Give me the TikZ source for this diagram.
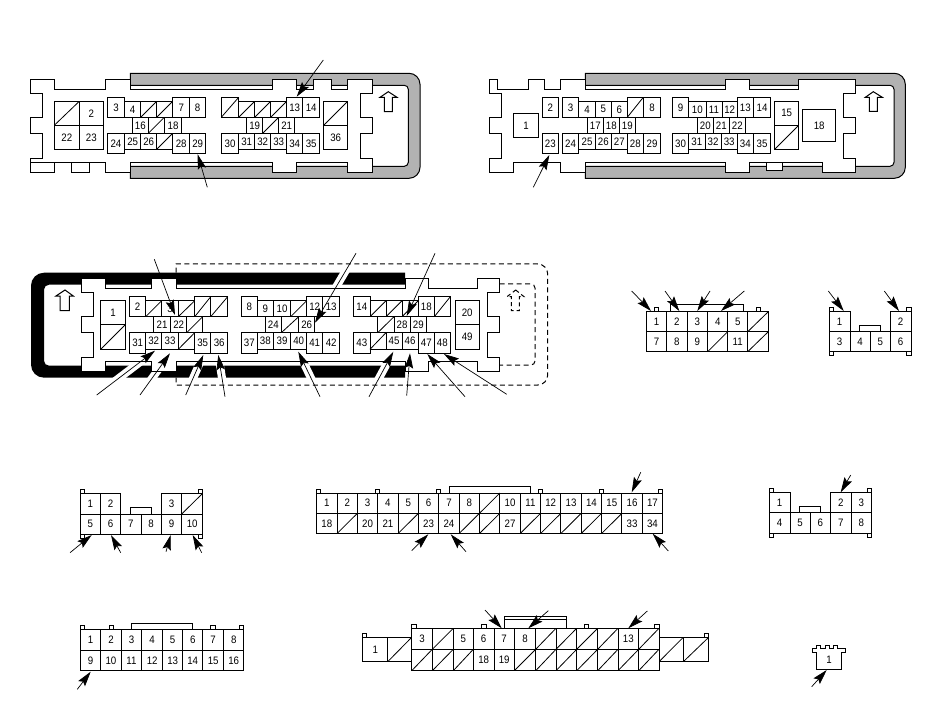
\documentclass[tikz,border=0pt]{standalone}
\usepackage{fontspec}
\setmainfont[FakeStretch=0.9]{Liberation Sans}
\usetikzlibrary{arrows.meta}
\definecolor{bandgrey}{RGB}{178,178,178}
\tikzset{
  cellbox/.style={draw=black,fill=white,line width=1pt,inner sep=0pt,outer sep=0pt,font=\fontsize{10.8}{11}\selectfont},
  diagline/.style={draw=black,line width=0.8pt},
  shell/.style={draw=black,line width=1pt,line join=miter},
  shellfill/.style={shell,fill=white},
  greyband/.style={draw=black,line width=1pt,fill=bandgrey},
  leader/.style={draw=black,line width=0.7pt,-{Stealth[length=15pt,width=8.5pt,inset=2.5pt]}},
  halo/.style={draw=white,line width=8pt},
  dashline/.style={draw=black,line width=1pt,dash pattern=on 5pt off 3.5pt}
}
\newcommand{\pincell}[6]{\node[cellbox,minimum width={((#3)-(#2))*1pt},minimum height={((#5)-(#4))*1pt},anchor=north west] (#1) at ({#2},{#4}) {#6};}
\newcommand{\voidcell}[5]{\pincell{#1}{#2}{#3}{#4}{#5}{}\draw[diagline] (#1.south west) -- (#1.north east);}
\newcommand{\labrow}[4]{\foreach \xa/\xb/\lab [count=\i] in {#4} {\pincell{#1\i}{\xa}{\xb}{#2}{#3}{\lab}}}
\newcommand{\voidrow}[4]{\foreach \xa/\xb [count=\i] in {#4} {\voidcell{#1\i}{\xa}{\xb}{#2}{#3}}}
\newcommand{\stub}[4]{\draw[shell] (#1,#4) -- (#1,#3) -- (#2,#3) -- (#2,#4);}
\newcommand{\leadline}[5]{\coordinate (#1t) at (#2,#3); \coordinate (#1h) at (#4,#5); \draw[leader] (#1t) -- (#1h);}
\newcommand{\haloline}[4]{\draw[halo] (#1,#2) -- (#3,#4);}
\begin{document}
\begin{tikzpicture}[x=1pt,y=-1pt]
\useasboundingbox (0,0) rectangle (950,719);
% ---------- Connector A
\draw[greyband] (130.3,73.3) [rounded corners=11pt] -- (420,73.3) -- (420,178.3) [sharp corners] -- (130.3,178.3) -- (130.3,166.3) [rounded corners=4pt] -- (408.3,166.3) -- (408.3,85.3) [sharp corners] -- (130.3,85.3) -- cycle;
\draw[shellfill] (30.3,79.3) -- (54.3,79.3) -- (54.3,89.3) -- (105.3,89.3) -- (105.3,79.3) -- (130.3,79.3) -- (130.3,89.3) -- (272.3,89.3) -- (272.3,79.3) -- (296.3,79.3) -- (296.3,89.3) -- (313.3,89.3) -- (313.3,79.3) -- (331.3,79.3) -- (331.3,89.3) -- (347.3,89.3) -- (347.3,79.3) -- (372.7,79.3) -- (372.7,93.3) -- (360.3,93.3) -- (360.3,117.3) -- (372.7,117.3) -- (372.7,133.3) -- (360.3,133.3) -- (360.3,158.3) -- (372.7,158.3) -- (372.7,172.3) -- (347.3,172.3) -- (347.3,162.3) -- (296.3,162.3) -- (296.3,172.3) -- (272.3,172.3) -- (272.3,162.3) -- (130.3,162.3) -- (130.3,172.3) -- (105.3,172.3) -- (105.3,162.3) -- (89.7,162.3) -- (89.7,172.3) -- (71.7,172.3) -- (71.7,162.3) -- (54.3,162.3) -- (54.3,172.3) -- (30.3,172.3) -- (30.3,158.3) -- (42.7,158.3) -- (42.7,133.3) -- (30.3,133.3) -- (30.3,117.3) -- (42.7,117.3) -- (42.7,93.3) -- (30.3,93.3) -- cycle;
\draw[shell] (30.3,162.3) -- (105.3,162.3);
\draw[shell] (388.3,91.7) -- (397,97.3) -- (392.3,97.3) -- (392.3,111.7) -- (384.3,111.7) -- (384.3,97.3) -- (380,97.3) -- cycle;
\voidcell{Aa}{54.3}{79.3}{101.3}{125.3}
\pincell{Ab}{79.3}{103.3}{101.3}{125.3}{2}
\pincell{Ac}{54.3}{79.3}{125.3}{149.3}{22}
\pincell{Ad}{79.3}{103.3}{125.3}{149.3}{23}
\labrow{AUT}{97.3}{117.3}{107.3/124.7/3,172.7/189.7/7,189.7/205.7/8,286.7/302.7/13,302.7/319.7/14}
\labrow{AUS}{101.3}{117.3}{124.7/140.7/4}
\voidrow{AVS}{101.3}{117.3}{140.7/156.7,156.7/172.7,238.7/254.7,254.7/270.7,270.7/286.7}
\voidrow{AVT}{97.3}{117.3}{221.3/238.7}
\labrow{AM}{117.3}{133.3}{132.3/148.3/16,164.3/181.7/18,246.7/262.7/19,278.7/294.7/21}
\voidrow{AVM}{117.3}{133.3}{148.3/164.3,262.7/278.7}
\labrow{ALT}{133.3}{153.3}{107.3/124.7/24,172.7/189.7/28,189.7/205.7/29,221.3/238.7/30,286.7/302.7/34,302.7/319.7/35}
\labrow{ALS}{133.3}{149.3}{124.7/140.7/25,140.7/156.7/26,238.7/254.7/31,254.7/270.7/32,270.7/286.7/33}
\voidrow{AVL}{133.3}{149.3}{156.7/172.7}
\voidcell{Ae}{323.7}{347.7}{101.3}{125.3}
\pincell{Af}{323.7}{347.7}{125.3}{149.3}{36}
\leadline{la1}{207.3}{187.3}{197.7}{154.3}
\leadline{la2}{323.3}{60}{296.7}{96.7}
% ---------- Connector B
\draw[greyband] (585.3,73.3) [rounded corners=11pt] -- (905.3,73.3) -- (905.3,178.3) [sharp corners] -- (585.3,178.3) -- (585.3,166.3) [rounded corners=4pt] -- (894,166.3) -- (894,85.3) [sharp corners] -- (585.3,85.3) -- cycle;
\draw[shellfill] (489.3,79.3) -- (497.3,79.3) -- (497.3,89.3) -- (528.3,89.3) -- (528.3,79.3) -- (544.3,79.3) -- (544.3,89.3) -- (560.3,89.3) -- (560.3,79.3) -- (585.3,79.3) -- (585.3,89.3) -- (725.3,89.3) -- (725.3,79.3) -- (749.3,79.3) -- (749.3,89.3) -- (798.7,89.3) -- (798.7,79.3) -- (855.7,79.3) -- (855.7,93.3) -- (843.3,93.3) -- (843.3,117.3) -- (855.7,117.3) -- (855.7,133.3) -- (843.3,133.3) -- (843.3,158.3) -- (855.7,158.3) -- (855.7,172.3) -- (822.7,172.3) -- (822.7,162.3) -- (749.3,162.3) -- (749.3,172.3) -- (725.3,172.3) -- (725.3,162.3) -- (585.3,162.3) -- (585.3,172.3) -- (560.3,172.3) -- (560.3,162.3) -- (513.3,162.3) -- (513.3,172.3) -- (489.3,172.3) -- (489.3,158.3) -- (501.3,158.3) -- (501.3,133.3) -- (489.3,133.3) -- (489.3,117.3) -- (501.3,117.3) -- (501.3,93.3) -- (489.3,93.3) -- cycle;
\draw[shellfill] (766.3,162.3) rectangle (782.3,170.3);
\draw[shell] (873.3,91.7) -- (882.3,97.3) -- (877.3,97.3) -- (877.3,111.3) -- (869.3,111.3) -- (869.3,97.3) -- (865.3,97.3) -- cycle;
\pincell{Ba}{513.3}{538.7}{113.3}{137.3}{1}
\labrow{BUT}{97.3}{117.3}{542.3/558.3/2,562.3/578.7/3,643.3/660.7/8,672.3/688.7/9,737.3/753.3/13,753.3/770.7/14}
\labrow{BUS}{101.3}{117.3}{578.7/595.3/4,595.3/611.3/5,611.3/627.3/6,688.7/706/10,706/722/11,722/737.3/12}
\voidrow{BVT}{97.3}{117.3}{627.3/643.3}
\labrow{BM}{117.3}{133.3}{587.3/603.3/17,603.3/619.3/18,619.3/635.3/19,697.3/713.3/20,713.3/729.3/21,729.3/745.3/22}
\labrow{BLT}{133.3}{153.3}{542.3/558.3/23,562.3/578.7/24,627.3/643.3/28,643.3/660.7/29,672.3/688.7/30,737.3/753.3/34,753.3/770.7/35}
\labrow{BLS}{133.3}{149.3}{578.7/595.3/25,595.3/611.3/26,611.3/627.3/27,688.7/705/31,705/721/32,721/737.3/33}
\pincell{Bb}{774.7}{798.7}{101.3}{125.3}{15}
\voidcell{Bc}{774.7}{798.7}{125.3}{149.3}
\pincell{Bd}{802.7}{835.7}{109.3}{141.3}{18}
\leadline{lb1}{533.3}{187.3}{549.3}{155}
% ---------- Connector C
\fill[black] (405,272.7) [rounded corners=13pt] -- (31,272.7) -- (31,377.7) [sharp corners] -- (405,377.7) -- (405,365.7) [rounded corners=5pt] -- (44,365.7) -- (44,284.7) [sharp corners] -- (405,284.7) -- cycle;
\haloline{96.7}{395}{155}{350.7}
\haloline{140}{395}{170}{353.3}
\haloline{185.7}{395}{203.3}{355}
\haloline{225}{396.7}{218.3}{355}
\haloline{356}{253.3}{315}{322.7}
\haloline{320}{396.7}{298.3}{351.7}
\haloline{369}{396.7}{393.3}{351.7}
\draw[dashline] (176,272.7) -- (176,264) [rounded corners=10pt] -- (547.7,264) -- (547.7,385) [sharp corners] -- (176,385) -- (176,377.7);
\draw[dashline] (499.7,284) [rounded corners=4pt] -- (535,284) -- (535,365) [sharp corners] -- (499.7,365);
\draw[shellfill] (81,278.7) -- (105.3,278.7) -- (105.3,288.7) -- (151.7,288.7) -- (151.7,278.7) -- (176,278.7) -- (176,288.7) -- (405,288.7) -- (405,278.7) -- (428.3,278.7) -- (428.3,288.7) -- (477.7,288.7) -- (477.7,278.7) -- (499.7,278.7) -- (499.7,292.7) -- (487.7,292.7) -- (487.7,316.7) -- (499.7,316.7) -- (499.7,332.7) -- (487.7,332.7) -- (487.7,357.3) -- (499.7,357.3) -- (499.7,371.3) -- (477.7,371.3) -- (477.7,361.3) -- (428.3,361.3) -- (428.3,371.3) -- (405,371.3) -- (405,361.3) -- (176,361.3) -- (176,371.3) -- (151.7,371.3) -- (151.7,361.3) -- (105.3,361.3) -- (105.3,371.3) -- (81,371.3) -- (81,357.3) -- (93,357.3) -- (93,332.7) -- (81,332.7) -- (81,316.7) -- (93,316.7) -- (93,292.7) -- (81,292.7) -- cycle;
\draw[shell] (65,290) -- (73.3,296) -- (69.3,296) -- (69.3,310.7) -- (60,310.7) -- (60,296) -- (56,296) -- cycle;
\draw[dashline,dash pattern=on 4pt off 3pt] (515.7,290) -- (524,296.7) -- (519.3,296.7) -- (519.3,310.7) -- (511.3,310.7) -- (511.3,296.7) -- (507,296.7) -- cycle;
\pincell{Ca}{100.7}{125.3}{300.7}{324.7}{1}
\voidcell{Cb}{100.7}{125.3}{324.7}{349.3}
\labrow{CUT}{296.7}{316.7}{129.7/145.7/2,241.3/257.3/8,306.7/322.7/12,322.7/339.7/13,353.7/370/14,418.3/434.3/18}
\voidrow{CVT}{296.7}{316.7}{194.7/210.7,210.7/227.7,434.3/450.3}
\labrow{CUS}{300.7}{316.7}{161.7/178.3/3,257.3/273.3/9,273.3/290.7/10}
\voidrow{CVS}{300.7}{316.7}{145.7/161.7,178.3/194.7,290.7/306.7,370/386,386/402,402/418.3}
\labrow{CM}{316.7}{332.7}{153.3/170.7/21,170.7/186.7/22,265.3/281.3/24,298.7/314.7/26,394/410.3/28,410.3/426.3/29}
\voidrow{CVM}{316.7}{332.7}{186.7/202.7,281.3/298.7,377.7/394}
\labrow{CLT}{332.7}{353.3}{129.7/145.7/31,194.7/210.7/35,210.7/227.7/36,241.3/257.3/37,306.7/322.7/41,322.7/339.7/42,353.7/370/43,418.3/434.3/47,434.3/450.3/48}
\labrow{CLS}{332.7}{349.3}{145.7/161.7/32,161.7/178.3/33,257.3/273.3/38,273.3/290.7/39,290.7/306.7/40,386/402/45,402/418.3/46}
\voidrow{CVL}{332.7}{349.3}{178.3/194.7,370/386}
\pincell{Cc}{455}{479.3}{300.7}{324.7}{20}
\pincell{Cd}{455}{479.3}{324.7}{349.3}{49}
\leadline{lc1}{154.3}{259.3}{175}{315}
\leadline{lc2}{96.7}{395}{155}{350.7}
\leadline{lc3}{140}{395}{170}{353.3}
\leadline{lc4}{185.7}{395}{203.3}{355}
\leadline{lc5}{225}{396.7}{218.3}{355}
\leadline{lc6}{356}{253.3}{315}{322.7}
\leadline{lc7}{320}{396.7}{298.3}{351.7}
\leadline{lc8}{369}{396.7}{393.3}{351.7}
\leadline{lc9}{406.7}{395.7}{410}{353.3}
\leadline{lc10}{435}{253.3}{406.7}{316}
\leadline{lc11}{465}{396.7}{427.3}{354}
\leadline{lc12}{506.7}{394.3}{444}{354}
% ---------- Connector D
\stub{654.3}{658.3}{307.7}{311.7}
\stub{756.3}{760.3}{307.7}{311.7}
\stub{670.3}{743.7}{304.3}{311.7}
\labrow{DT}{311.7}{331.7}{646.3/666.7/1,666.7/687/2,687/707.7/3,707.7/727.7/4,727.7/747.7/5}
\voidcell{DV}{747.7}{768.3}{311.7}{331.7}
\labrow{DB}{331.7}{351.7}{646.3/666.7/7,666.7/687/8,687/707.7/9,727.7/747.7/11}
\voidrow{DW}{331.7}{351.7}{707.7/727.7,747.7/768.3}
\leadline{ld1}{631.7}{291}{651}{311}
\leadline{ld2}{665}{291}{679.3}{311}
\leadline{ld3}{710}{291}{697.3}{311}
\leadline{ld4}{744.3}{291}{721}{311}
% ---------- Connector E
\stub{829}{833.3}{307.7}{312}
\stub{906.7}{911}{307.7}{312}
\stub{859.3}{880.7}{325}{331.7}
\stub{829}{833.3}{355.7}{351.7}
\stub{906.7}{911}{355.7}{351.7}
\labrow{ET}{311.7}{331.7}{829/850/1,890.3/911/2}
\labrow{EB}{331.7}{351.7}{829/850/3,850/870.3/4,870.3/890.3/5,890.3/911/6}
\leadline{le1}{828.3}{291}{843.7}{311}
\leadline{le2}{884.3}{291}{899}{311}
% ---------- Connector F
\stub{80}{84}{489.3}{493.3}
\stub{198.7}{202.7}{489.3}{493.3}
\stub{130.3}{151.3}{507.3}{514}
\stub{80}{84.3}{538.3}{534}
\stub{198.7}{202.7}{538.3}{534}
\labrow{FT}{493.3}{514}{80/100.7/1,100.7/120.7/2,161.3/181.7/3}
\voidcell{FV}{181.7}{202.7}{493.3}{514}
\labrow{FB}{514}{534}{80/100.7/5,100.7/120.7/6,120.7/141/7,141/161.3/8,161.3/181.7/9,181.7/202.7/10}
\leadline{lf1}{70}{552.7}{91.7}{535}
\leadline{lf2}{120.7}{552.7}{111}{535}
\leadline{lf3}{166}{551.7}{170.7}{535}
\leadline{lf4}{201.7}{552.7}{192.7}{535}
% ---------- Connector G
\stub{316.7}{320.7}{489.3}{493}
\stub{375.3}{379.3}{489.3}{493}
\stub{436.7}{440.7}{489.3}{493}
\stub{538.3}{542.3}{489.3}{493}
\stub{599.3}{603.3}{489.3}{493}
\stub{658.3}{662.7}{489.3}{493}
\stub{449.3}{530.7}{486.5}{493}
\foreach \col/\lab in {0/1,1/2,2/3,3/4,4/5,5/6,6/7,7/8,9/10,10/11,11/12,12/13,13/14,14/15,15/16,16/17}
  {\pincell{GT\col}{316.7+20.35*\col}{316.7+20.35*(\col+1)}{493}{513.3}{\lab}}
\voidcell{GTv}{316.7+20.35*8}{316.7+20.35*9}{493}{513.3}
\foreach \col/\lab in {0/18,2/20,3/21,5/23,6/24,9/27,15/33,16/34}
  {\pincell{GB\col}{316.7+20.35*\col}{316.7+20.35*(\col+1)}{513.3}{533.5}{\lab}}
\foreach \col in {1,4,7,8,10,11,12,13,14}
  {\voidcell{GV\col}{316.7+20.35*\col}{316.7+20.35*(\col+1)}{513.3}{533.5}}
\leadline{lg1}{411.7}{550.7}{428.3}{534.3}
\leadline{lg2}{466}{551.7}{450.7}{534.3}
\leadline{lg3}{640.7}{472.3}{631.7}{492.3}
\leadline{lg4}{668.3}{551}{652.7}{533.7}
% ---------- Connector H
\stub{769.3}{773.3}{488.3}{492.7}
\stub{867.7}{871.7}{488.3}{492.7}
\stub{799.3}{820.7}{506.3}{512.7}
\stub{769.3}{773.3}{537.3}{533.3}
\stub{867.7}{871.7}{537.3}{533.3}
\labrow{HT}{492.7}{512.7}{769.3/790/1,830.7/851/2,851/871.7/3}
\labrow{HB}{512.7}{533.3}{769.3/790/4,790/810/5,810/830.7/6,830.7/851/7,851/871.7/8}
\leadline{lh1}{850.7}{475}{840.7}{492.3}
% ---------- Connector I
\stub{80.7}{84.7}{625.3}{629.3}
\stub{109.3}{113.3}{625.3}{629.3}
\stub{210.7}{215}{625.3}{629.3}
\stub{239.7}{243.7}{625.3}{629.3}
\stub{131.7}{192.7}{623.3}{629.3}
\labrow{IT}{629.3}{650}{80.7/100.7/1,100.7/121.3/2,121.3/141.7/3,141.7/162.7/4,162.7/182.7/5,182.7/202.7/6,202.7/223.7/7,223.7/243.7/8}
\labrow{IB}{650}{670.7}{80.7/100.7/9,100.7/121.3/10,121.3/141.7/11,141.7/162.7/12,162.7/182.7/13,182.7/202.7/14,202.7/223.7/15,223.7/243.7/16}
\leadline{li1}{77.3}{689.3}{90.7}{671.7}
% ---------- Connector J
\stub{362.7}{366.7}{633.3}{637.3}
\stub{704.3}{708.7}{633.3}{637.3}
\stub{411.7}{416}{624.3}{628.3}
\stub{481.3}{486.7}{624.3}{628.3}
\stub{584.3}{588.7}{624.3}{628.3}
\stub{654}{659}{624.3}{628.3}
\stub{504.3}{566.7}{616}{628.3}
\draw[shell] (504.3,619.3) -- (566.7,619.3);
\pincell{Ja}{362.7}{387.7}{637.3}{661.7}{1}
\voidrow{JL}{637.3}{661.7}{387.7/411.7,659/683.3,683.3/708.7}
\labrow{JT}{628.3}{649.3}{411.7/432.3/3,453.3/473.3/5,473.3/494/6,494/514.3/7,514.3/535.7/8,618/638.7/13}
\voidrow{JU}{628.3}{649.3}{432.3/453.3,535.7/556,556/576.7,576.7/597.7,597.7/618,638.7/659}
\labrow{JB}{649.3}{670.7}{473.3/494/18,494/514.3/19}
\voidrow{JV}{649.3}{670.7}{411.7/432.3,432.3/453.3,453.3/473.3,514.3/535.7,535.7/556,556/576.7,576.7/597.7,597.7/618,618/638.7,638.7/659}
\leadline{lj1}{485}{610}{501.7}{628.3}
\leadline{lj2}{548.3}{610.7}{528.3}{628.3}
\leadline{lj3}{647.3}{611}{628.3}{628.3}
% ---------- Connector K
\draw[shellfill] (816.7,669.3) -- (816.7,652.7) -- (812.7,652.7) -- (812.7,648.7) -- (816.7,648.7) -- (816.7,645.7) -- (820.7,645.7) -- (820.7,648.7) -- (825,648.7) -- (825,645.7) -- (829,645.7) -- (829,648.7) -- (833.3,648.7) -- (833.3,645.7) -- (837.3,645.7) -- (837.3,648.7) -- (845.7,648.7) -- (845.7,652.7) -- (841.7,652.7) -- (841.7,669.3) -- cycle;
\node[font=\fontsize{10.8}{11}\selectfont,inner sep=0pt] (Ka) at (829,659.3) {1};
\leadline{lk1}{811.7}{686.7}{826.7}{670}
\end{tikzpicture}
\end{document}
